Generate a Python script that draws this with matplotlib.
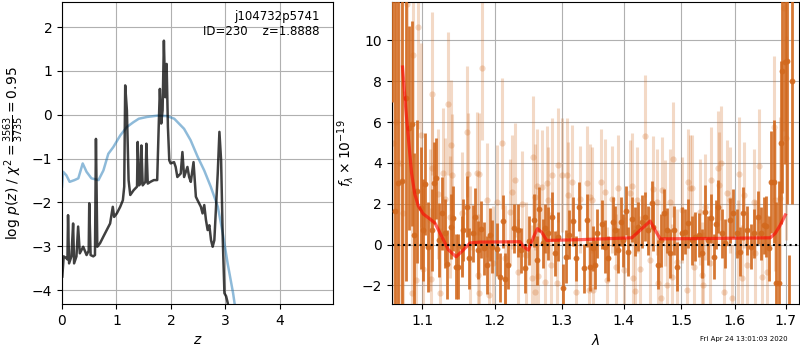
import numpy as np
import matplotlib.pyplot as plt
from matplotlib.ticker import NullLocator, NullFormatter

# p(z) curves (left panel)
z_pz = [0.006, 0.031, 0.080, 0.100, 0.111, 0.130, 0.173, 0.204, 0.222, 0.265,
        0.296, 0.327, 0.389, 0.451, 0.490, 0.500, 0.525, 0.574, 0.605, 0.623,
        0.648, 0.698, 0.759, 0.821, 0.883, 0.932, 0.957, 1.006, 1.068, 1.117,
        1.142, 1.160, 1.191, 1.222, 1.253, 1.315, 1.377, 1.389, 1.414, 1.438,
        1.457, 1.481, 1.531, 1.549, 1.574, 1.623, 1.685, 1.747, 1.778, 1.796,
        1.821, 1.846, 1.870, 1.895, 1.920, 1.944, 1.969, 1.994, 2.056, 2.086,
        2.117, 2.148, 2.179, 2.210, 2.241, 2.302, 2.333, 2.364, 2.414, 2.457,
        2.488, 2.549, 2.580, 2.611, 2.642, 2.673, 2.704, 2.735, 2.765, 2.796,
        2.827, 2.858, 2.889, 2.920, 2.951, 2.981, 3.012, 3.043, 3.074]
logp = [-3.69, -3.23, -3.27, -3.30, -2.29, -3.39, -3.23, -2.48, -3.39, -3.23,
        -2.55, -3.16, -3.01, -3.20, -3.10, -2.02, -3.20, -3.23, -3.20, -0.55,
        -3.01, -2.93, -2.78, -2.63, -2.48, -2.10, -2.33, -2.25, -2.10, -1.95,
        -1.64, 0.67, 0.10, -1.49, -1.83, -1.72, -1.64, -0.62, -1.61, -1.57,
        -0.70, -1.61, -1.53, -0.66, -1.57, -1.53, -1.49, -1.49, -0.13, 0.59,
        -0.20, 0.10, 1.69, 0.40, 1.16, -0.28, -1.04, -1.11, -1.08, -1.19,
        -1.42, -1.38, -1.34, -0.85, -1.42, -1.19, -1.42, -1.53, -1.08, -1.87,
        -1.95, -2.10, -2.25, -2.06, -2.40, -2.63, -2.52, -2.86, -3.01, -2.86,
        -2.10, -1.34, -0.39, -1.04, -2.86, -4.07, -4.14, -4.30, -4.67]

z_prior = [0.0, 0.02, 0.08, 0.14, 0.23, 0.30, 0.38, 0.45, 0.54, 0.67, 0.76, 0.85,
           0.94, 1.07, 1.19, 1.31, 1.41, 1.56, 1.75, 1.93, 2.06, 2.24, 2.36, 2.49,
           2.61, 2.73, 2.86, 2.95, 3.04, 3.14, 3.25]
logp_prior = [-1.64, -1.30, -1.38, -1.53, -1.49, -1.45, -1.11, -1.30, -1.45, -1.49,
              -1.27, -0.89, -0.74, -0.47, -0.28, -0.17, -0.09, -0.05, -0.02, -0.03,
              -0.09, -0.32, -0.58, -0.96, -1.27, -1.64, -2.10, -2.70, -3.39, -4.07,
              -5.00]

# spectrum, first set (dark points)
dark_wave = [1.0604, 1.0646, 1.0688, 1.0732, 1.0787, 1.0830, 1.0861, 1.0891, 1.0935, 1.0979,
             1.1014, 1.1040, 1.1080, 1.1125, 1.1156, 1.1182, 1.1227, 1.1259, 1.1304, 1.1335,
             1.1382, 1.1417, 1.1454, 1.1486, 1.1533, 1.1555, 1.1602, 1.1638, 1.1686, 1.1718,
             1.1764, 1.1798, 1.1845, 1.1892, 1.1930, 1.1954, 1.2035, 1.2074, 1.2113, 1.2147,
             1.2195, 1.2279, 1.2342, 1.2377, 1.2442, 1.2506, 1.2576, 1.2626, 1.2656, 1.2717,
             1.2743, 1.2794, 1.2846, 1.2898, 1.2949, 1.3017, 1.3069, 1.3111, 1.3183, 1.3227,
             1.3279, 1.3359, 1.3407, 1.3450, 1.3504, 1.3531, 1.3569, 1.3641, 1.3695, 1.3749,
             1.3822, 1.3860, 1.3915, 1.3955, 1.3998, 1.4044, 1.4082, 1.4140, 1.4196, 1.4252,
             1.4310, 1.4368, 1.4425, 1.4484, 1.4511, 1.4598, 1.4640, 1.4699, 1.4746, 1.4805,
             1.4876, 1.4935, 1.5014, 1.5074, 1.5133, 1.5195, 1.5256, 1.5316, 1.5378, 1.5440,
             1.5482, 1.5545, 1.5594, 1.5644, 1.5687, 1.5751, 1.5814, 1.5896, 1.5961, 1.6038,
             1.6101, 1.6153, 1.6231, 1.6309, 1.6360, 1.6439, 1.6506, 1.6572, 1.6611, 1.6665,
             1.6705, 1.6757, 1.6812, 1.6858, 1.6906, 1.6933, 1.6994, 1.7035, 1.7075, 1.7137]
dark_flux = [14.0, 1.64, 3.03, 3.11, 7.19, 5.72, 5.93, 0.47, 2.62, 1.80,
             0.71, 2.96, -0.11, 0.71, 3.03, 3.24, 0.22, 1.53, 0.55, -0.97,
             0.87, 1.28, -1.09, -1.09, -0.11, 0.71, 1.85, -0.68, 0.55, 1.36,
             -0.27, 0.74, -0.19, -1.00, 0.47, -0.11, -0.24, -1.61, 1.15, -1.71,
             -1.00, 0.79, 0.71, -0.27, -1.17, 0.19, 1.20, -0.76, 1.72, 0.06,
             0.79, 0.55, 1.36, -0.43, 0.38, -2.15, -0.60, 0.47, 1.15, -0.68,
             1.85, -1.17, 1.20, -1.09, -0.19, -1.00, 0.55, 1.00, -0.11, -0.68,
             1.12, 0.71, -0.27, 1.12, 0.22, 1.66, -0.35, 1.23, 0.63, 0.87,
             1.12, 1.36, 0.71, 2.02, 0.87, -1.00, 0.22, 1.53, 0.71, -0.43,
             0.71, -1.09, 0.55, 0.63, 1.04, 0.22, 0.38, 0.47, -0.43, 1.60,
             0.22, 1.28, -0.60, 1.00, 1.85, 0.55, 0.06, 1.20, 1.53, 0.55,
             -0.35, 1.53, 0.71, -0.11, 0.55, 1.33, 0.55, 0.95, 0.90, -0.19,
             3.08, 3.08, -1.90, -1.90, 4.99, 8.51, 8.96, 9.00, -5.00, 8.00]
dark_err = [7.0, 15.0, 15.0, 15.0, 9.0, 5.0, 5.0, 4.0, 3.5, 3.0,
            2.5, 2.5, 2.2, 2.0, 2.0, 2.0, 1.8, 1.8, 1.7, 1.7,
            1.6, 1.6, 1.6, 1.6, 1.5, 1.5, 1.5, 1.5, 1.4, 1.4,
            1.4, 1.4, 1.3, 1.4, 1.3, 1.3, 1.3, 1.2, 1.3, 1.3,
            1.2, 1.2, 1.3, 1.1, 1.2, 1.2, 1.3, 1.2, 1.1, 1.2,
            1.2, 1.3, 1.2, 1.1, 1.2, 1.2, 1.3, 1.2, 1.2, 1.1,
            1.2, 1.2, 1.3, 1.2, 1.1, 1.2, 1.2, 1.2, 1.3, 1.1,
            1.2, 1.2, 1.1, 1.2, 1.3, 1.2, 1.2, 1.1, 1.2, 1.2,
            1.3, 1.2, 1.2, 1.1, 1.2, 1.2, 1.3, 1.2, 1.1, 1.2,
            1.2, 1.2, 1.3, 1.1, 1.2, 1.2, 1.2, 1.1, 1.2, 1.3,
            1.2, 1.2, 1.1, 1.2, 1.3, 1.2, 1.2, 1.1, 1.2, 1.2,
            1.2, 1.3, 1.2, 1.1, 1.2, 1.3, 1.3, 1.4, 1.5, 1.6,
            2.5, 3.0, 4.0, 5.0, 4.0, 6.0, 5.0, 7.0, 4.5, 6.0]

# spectrum, second set (light points)
light_wave = [1.0625, 1.0665, 1.0710, 1.0745, 1.0796, 1.0861, 1.0878, 1.0918, 1.0948, 1.0979,
              1.1014, 1.1102, 1.1113, 1.1125, 1.1133, 1.1213, 1.1236, 1.1273, 1.1304, 1.1341,
              1.1372, 1.1382, 1.1404, 1.1533, 1.1602, 1.1616, 1.1648, 1.1741, 1.1756, 1.1767,
              1.1778, 1.1812, 1.1883, 1.1920, 1.1978, 1.2026, 1.2108, 1.2147, 1.2220, 1.2254,
              1.2293, 1.2342, 1.2392, 1.2457, 1.2541, 1.2557, 1.2584, 1.2591, 1.2617, 1.2641,
              1.2693, 1.2743, 1.2769, 1.2794, 1.2831, 1.2856, 1.2924, 1.2949, 1.3002, 1.3089,
              1.3105, 1.3158, 1.3227, 1.3290, 1.3407, 1.3439, 1.3450, 1.3478, 1.3504, 1.3629,
              1.3695, 1.3723, 1.3805, 1.3877, 1.3915, 1.4011, 1.4111, 1.4140, 1.4167, 1.4196,
              1.4225, 1.4281, 1.4368, 1.4454, 1.4501, 1.4571, 1.4598, 1.4640, 1.4658, 1.4716,
              1.4746, 1.4805, 1.4835, 1.4846, 1.4935, 1.5014, 1.5104, 1.5133, 1.5164, 1.5195,
              1.5226, 1.5347, 1.5378, 1.5403, 1.5440, 1.5532, 1.5545, 1.5687, 1.5706, 1.5732,
              1.5782, 1.5846, 1.5909, 1.5942, 1.6053, 1.6068, 1.6134, 1.6165, 1.6231, 1.6360,
              1.6393, 1.6459, 1.6526, 1.6624, 1.6771, 1.6791, 1.6892, 1.6959, 1.7014]
light_flux = [5.00, 6.00, 4.00, 1.53, 11.80, -2.36, 9.28, -1.74, 10.67, 5.36,
              -1.22, 1.20, -1.70, 3.73, 7.40, 2.47, -2.39, 3.49, 2.21, 6.90,
              1.36, 4.87, 3.40, 1.53, 5.53, 3.45, -0.14, 3.49, -1.49, -2.36,
              3.45, 8.63, 2.18, -2.47, -0.92, 2.10, 4.96, -0.68, 1.60, 2.59,
              3.16, -1.33, 1.98, -0.51, -1.66, 4.27, -2.31, 2.34, 2.87, -1.54,
              2.80, -1.82, 3.03, 2.18, -1.00, 3.40, -1.90, 3.90, 3.40, 3.40,
              2.42, 3.08, -2.31, 2.21, 3.03, -2.23, 2.34, 2.18, -2.23, 3.08,
              2.59, -1.74, 2.21, -1.09, 2.75, -1.25, 2.54, 2.87, -1.66, -2.26,
              2.18, -1.22, 5.31, -0.76, 2.70, 2.10, -1.90, -2.64, 2.67, 1.53,
              -1.98, 2.10, -1.57, 4.17, -0.84, 1.69, -2.23, 3.08, 2.75, 2.75,
              -1.09, 1.60, -1.49, -1.98, 1.85, -0.92, 3.16, 3.73, 2.92, 3.98,
              -2.31, 2.54, 2.18, -2.64, -0.43, 3.45, -1.66, 2.42, -1.00, 2.10,
              -0.43, 3.84, -1.57, -1.33, 5.74, 2.18, 2.26, 11.57, 5.20]
light_err = [10.0, 10.0, 8.0, 6.0, 6.0, 5.0, 5.0, 4.5, 5.0, 4.5,
             4.0, 3.5, 3.5, 3.5, 4.0, 3.2, 3.2, 3.2, 3.0, 3.5,
             3.0, 3.2, 3.0, 3.0, 3.2, 3.0, 3.0, 3.0, 3.0, 3.0,
             3.0, 3.5, 2.8, 3.0, 2.8, 2.8, 3.2, 2.6, 2.6, 2.8,
             2.8, 2.6, 2.6, 2.6, 2.6, 3.0, 2.6, 2.6, 2.8, 2.6,
             2.8, 2.6, 2.8, 2.6, 2.6, 2.8, 2.6, 2.8, 2.8, 2.8,
             2.6, 2.8, 2.6, 2.6, 2.8, 2.6, 2.6, 2.6, 2.6, 2.6,
             2.6, 2.6, 2.6, 2.6, 2.6, 2.6, 2.6, 2.6, 2.6, 2.6,
             2.6, 2.6, 3.0, 2.6, 2.6, 2.6, 2.6, 2.6, 2.6, 2.6,
             2.6, 2.6, 2.6, 2.8, 2.6, 2.6, 2.6, 2.6, 2.6, 2.6,
             2.6, 2.6, 2.6, 2.6, 2.6, 2.6, 2.6, 2.8, 2.6, 2.8,
             2.6, 2.6, 2.6, 2.6, 2.6, 2.8, 2.6, 2.6, 2.6, 2.6,
             2.6, 2.8, 2.6, 2.8, 3.5, 3.5, 4.0, 6.0, 5.0]

# best-fit model
model_wave = [1.0743, 1.0786, 1.0821, 1.0860, 1.0900, 1.0947, 1.1013, 1.1102, 1.1169, 1.1259,
              1.1348, 1.1454, 1.1554, 1.1648, 1.1788, 1.2368, 1.2416, 1.2491, 1.2566, 1.2627,
              1.2693, 1.2770, 1.3290, 1.4140, 1.4338, 1.4454, 1.4541, 1.4629, 1.5594, 1.6691,
              1.6791, 1.6892, 1.6995]
model_flux = [8.7, 6.6, 5.1, 3.5, 2.5, 1.9, 1.5, 1.25, 1.05, 0.4,
              -0.25, -0.6, -0.27, 0.08, 0.12, 0.14, -0.1, -0.27, 0.35, 0.78,
              0.6, 0.2, 0.24, 0.33, 0.85, 1.15, 0.7, 0.28, 0.3, 0.33,
              0.55, 0.95, 1.45]

wave_ticks = [1.1, 1.2, 1.3, 1.4, 1.5, 1.6, 1.7]
spec_color = '#d2691e'

fig = plt.figure(figsize=(8, 3.5), dpi=100)
ax1 = fig.add_axes([0.0775, 0.131, 0.3385, 0.863])
ax2 = fig.add_axes([0.4896, 0.131, 0.5094, 0.863])

# left: log p(z)
ax1.plot(z_prior, logp_prior, color='tab:blue', alpha=0.5, lw=1.8)
ax1.plot(z_pz, logp, color='k', alpha=0.75, lw=1.8)
ax1.set_xlim(0, 4.97)
ax1.set_ylim(-4.32, 2.57)
ax1.set_xticks([0, 1, 2, 3, 4])
ax1.set_yticks([-4, -3, -2, -1, 0, 1, 2])
ax1.grid()
ax1.set_xlabel('$z$')
ax1.set_ylabel(r'log $p(z)$ / $\chi^2=\frac{3563}{3735}=0.95$')
ax1.text(0.95, 0.975, 'j104732p5741\nID=230    z=1.8888', transform=ax1.transAxes,
         ha='right', va='top', fontsize=8.5)

# right: spectrum
ax2.errorbar(light_wave, light_flux, yerr=light_err, fmt='o', color=spec_color,
             alpha=0.25, ms=4.5, elinewidth=2.2, capsize=0, mec='none', zorder=2)
ax2.errorbar(dark_wave, dark_flux, yerr=dark_err, fmt='o', color=spec_color,
             alpha=0.9, ms=4.2, elinewidth=2.0, capsize=0, mec='none', zorder=3)
ax2.plot(model_wave, model_flux, color='r', alpha=0.6, lw=2.3, zorder=4)
ax2.axhline(0, color='k', linestyle=':', lw=1.5, zorder=5)

ax2.set_xscale('log')
ax2.set_xlim(1.0604, 1.728)
ax2.set_ylim(-2.92, 11.88)
ax2.set_xticks(wave_ticks)
ax2.set_xticklabels([f'{w:.1f}' for w in wave_ticks])
ax2.xaxis.set_minor_locator(NullLocator())
ax2.xaxis.set_minor_formatter(NullFormatter())
ax2.set_yticks([-2, 0, 2, 4, 6, 8, 10])
ax2.grid()
ax2.set_xlabel(r'$\lambda$')
ax2.set_ylabel(r'$f_\lambda\times10^{-19}$')

fig.text(0.985, 0.022, 'Fri Apr 24 13:01:03 2020', ha='right', va='bottom', fontsize=5)

fig.savefig('out.png', dpi=100)
